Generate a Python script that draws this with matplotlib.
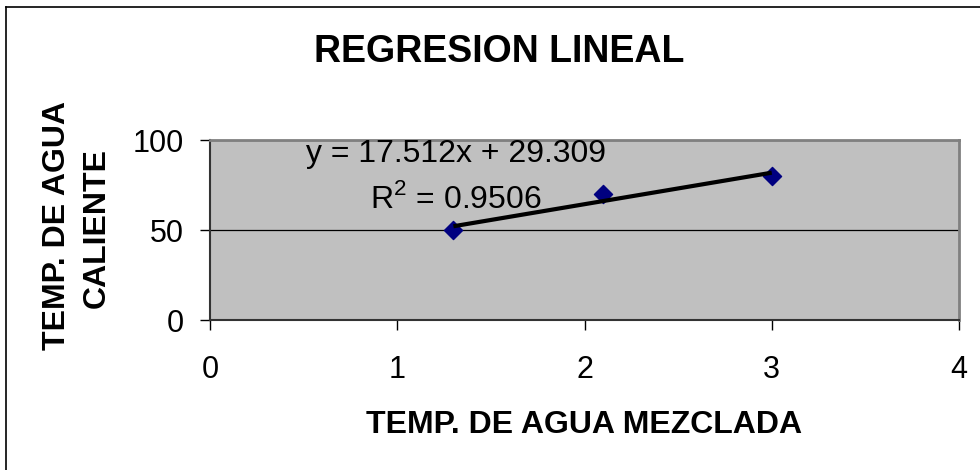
import matplotlib.pyplot as plt
import numpy as np
from matplotlib.lines import Line2D

# datos de la mezcla
temp_mezclada = [1.3, 2.1, 3.0]
temp_caliente = [50, 70, 80]

# recta de ajuste (coeficientes del ajuste lineal)
pendiente = 17.512
intercepto = 29.309
r2 = 0.9506

x_ticks = [0, 1, 2, 3, 4]
y_ticks = [0, 50, 100]

plt.rcParams["font.family"] = ["Liberation Sans", "DejaVu Sans"]
plt.rcParams["mathtext.fontset"] = "custom"
plt.rcParams["mathtext.rm"] = "Liberation Sans"

fig = plt.figure(figsize=(9.8, 4.7), dpi=100)
ax = fig.add_axes([210 / 980, 150 / 470, 749 / 980, 180 / 470])
ax.set_facecolor("#c0c0c0")

ax.scatter(temp_mezclada, temp_caliente, marker="D", s=85, color="#000080",
           edgecolors="#000080", zorder=3)

xs = np.array([min(temp_mezclada), max(temp_mezclada)])
ax.plot(xs, pendiente * xs + intercepto, color="black", lw=3, zorder=4,
        solid_capstyle="butt")

ax.set_xlim(0, 4)
ax.set_ylim(0, 100)
ax.set_xticks(x_ticks)
ax.set_yticks(y_ticks)
ax.tick_params(axis="both", direction="out", length=7, width=1,
               labelsize=22, color="black")
ax.tick_params(axis="x", pad=18)
ax.tick_params(axis="y", pad=12)

ax.yaxis.grid(True, color="black", lw=0.9)
for lado in ("top", "right"):
    ax.spines[lado].set_color("#808080")
    ax.spines[lado].set_linewidth(2)
for lado in ("left", "bottom"):
    ax.spines[lado].set_color("#333333")
    ax.spines[lado].set_linewidth(1.5)

# ecuación de la recta y coeficiente de determinación
ax.text(0.3284, 0.944, f"y = {pendiente}x + {intercepto}",
        transform=ax.transAxes, ha="center", va="center_baseline", fontsize=23)
ax.text(0.3284, 0.694, r"$\mathrm{R}^2$" + f" = {r2}",
        transform=ax.transAxes, ha="center", va="center_baseline", fontsize=23)

fig.text(0.509, 1 - 62 / 470, "REGRESION LINEAL", ha="center", va="baseline",
         fontsize=27, fontweight="bold")
fig.text(584 / 980, 1 - 433 / 470, "TEMP. DE AGUA MEZCLADA", ha="center",
         va="baseline", fontsize=23, fontweight="bold")
fig.text(65 / 980, 1 - 225 / 470, "TEMP. DE AGUA", ha="center", va="baseline",
         rotation=90, rotation_mode="anchor", fontsize=23, fontweight="bold")
fig.text(105 / 980, 1 - 228 / 470, "CALIENTE", ha="center", va="baseline",
         rotation=90, rotation_mode="anchor", fontsize=23, fontweight="bold")

# marco del gráfico (solo bordes izquierdo y superior)
fig.add_artist(Line2D([6 / 980, 6 / 980], [0, 1 - 7 / 470], color="black",
                      lw=1.2, transform=fig.transFigure))
fig.add_artist(Line2D([6 / 980, 1], [1 - 7 / 470, 1 - 7 / 470], color="black",
                      lw=1.2, transform=fig.transFigure))

fig.savefig("out.png", dpi=100)
